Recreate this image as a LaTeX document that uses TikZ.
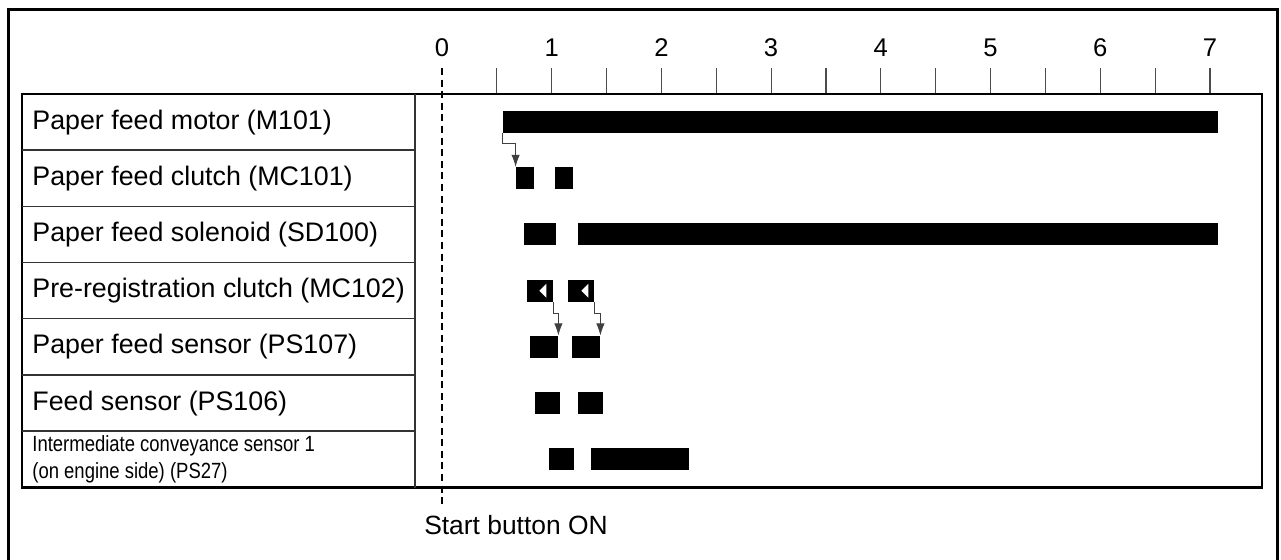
\documentclass[tikz,border=0pt]{standalone}
\usepackage{fontspec}
\setmainfont{Liberation Sans}
\newfontfamily\narrowfont[FakeStretch=0.84]{Liberation Sans}
\usetikzlibrary{arrows.meta, positioning}

\tikzset{
  bar/.style={fill=black, inner sep=0pt, minimum height=11pt},
  lbl/.style={anchor=west, inner sep=0pt, font=\fontsize{13.4}{16}\selectfont},
  num/.style={inner sep=0pt, font=\fontsize{12.8}{15}\selectfont},
  flow/.style={draw=black!75, line width=0.5pt, -{Latex[length=6pt, width=4.2pt]}},
  tickline/.style={draw=black!70, line width=0.6pt},
  rowline/.style={draw=black!80, line width=0.7pt},
  tableline/.style={draw=black, line width=1.4pt},
}
% bar: name, start, end, row centre
\newcommand{\tbar}[4]{%
  \node[bar, minimum width={(#3-#2)*0.5pt}] (#1) at ({(#2+#3)/2},#4) {};}

\begin{document}
\begin{tikzpicture}[x=0.5pt, y=-0.5pt]
    \useasboundingbox (0,0) rectangle (1281,560);
    % Frame
    \draw[line width=1.5pt] (8,570) |- (1277,10) -- (1277,570);

    % Time axis
    \foreach \i in {1,...,14}
        \draw[tickline] ({442+54.86*\i},68) -- ({442+54.86*\i},94);
    \foreach \n in {0,...,7}
        \node[num] (n\n) at ({442+109.7*\n},48) {\n};

    % Table
    \draw[tableline] (22,94) rectangle (1262,487.7);
    \draw[rowline] (415,94) -- (415,487.7);
    \foreach \i in {1,...,6}
        \draw[rowline] (22,{94+56.2*\i}) -- (415,{94+56.2*\i});

    % Start button
    \coordinate (t0top) at (442,68);
    \coordinate (t0bot) at (442,505);
    \draw[line width=0.6pt, dash pattern=on 3.5pt off 2.3pt] (t0top) -- (t0bot);
    \node[font=\fontsize{13.2}{16}\selectfont, inner sep=0pt] (start) at (516,525) {Start button ON};

    % Labels
    \node[lbl] (lMotor) at (32,122.1) {Paper feed motor (M101)};
    \node[lbl] (lClutch) at (32,178.3) {Paper feed clutch (MC101)};
    \node[lbl] (lSol) at (32,234.5) {Paper feed solenoid (SD100)};
    \node[lbl] (lPre) at (32,290.7) {Pre-registration clutch (MC102)};
    \node[lbl] (lSens) at (32,346.9) {Paper feed sensor (PS107)};
    \node[lbl] (lFeed) at (32,403.1) {Feed sensor (PS106)};
    \node[lbl, align=left, font=\narrowfont\fontsize{11}{13.5}\selectfont] (lInter) at (32,459.3)
        {Intermediate conveyance sensor 1\\(on engine side) (PS27)};

    % Bars
    \tbar{motor}{503}{1218}{122.1}
    \tbar{clutchA}{516}{534}{178.3}
    \tbar{clutchB}{555}{573}{178.3}
    \tbar{solA}{524}{556}{234.5}
    \tbar{solB}{578}{1218}{234.5}
    \tbar{preA}{527}{553}{290.7}
    \tbar{preB}{568}{594}{290.7}
    \tbar{sensA}{530}{558}{346.9}
    \tbar{sensB}{572}{600}{346.9}
    \tbar{feedA}{535}{560}{403.1}
    \tbar{feedB}{578}{603}{403.1}
    \tbar{interA}{549}{574}{459.3}
    \tbar{interB}{591}{689}{459.3}

    % White marks in the clutch bars
    \fill[white] (preA.east) ++(-14,0) -- ++(7,-7) -- ++(0,14) -- cycle;
    \fill[white] (preB.east) ++(-13,0) -- ++(7,-7) -- ++(0,14) -- cycle;

    % Timing arrows
    \draw[flow] (motor.south west) -- ++(0,10) -| (clutchA.north west);
    \draw[flow] (preA.south east) -- ++(0,11) -| (sensA.north east);
    \draw[flow] (preB.south east) -- ++(0,11) -| (sensB.north east);
\end{tikzpicture}
\end{document}
